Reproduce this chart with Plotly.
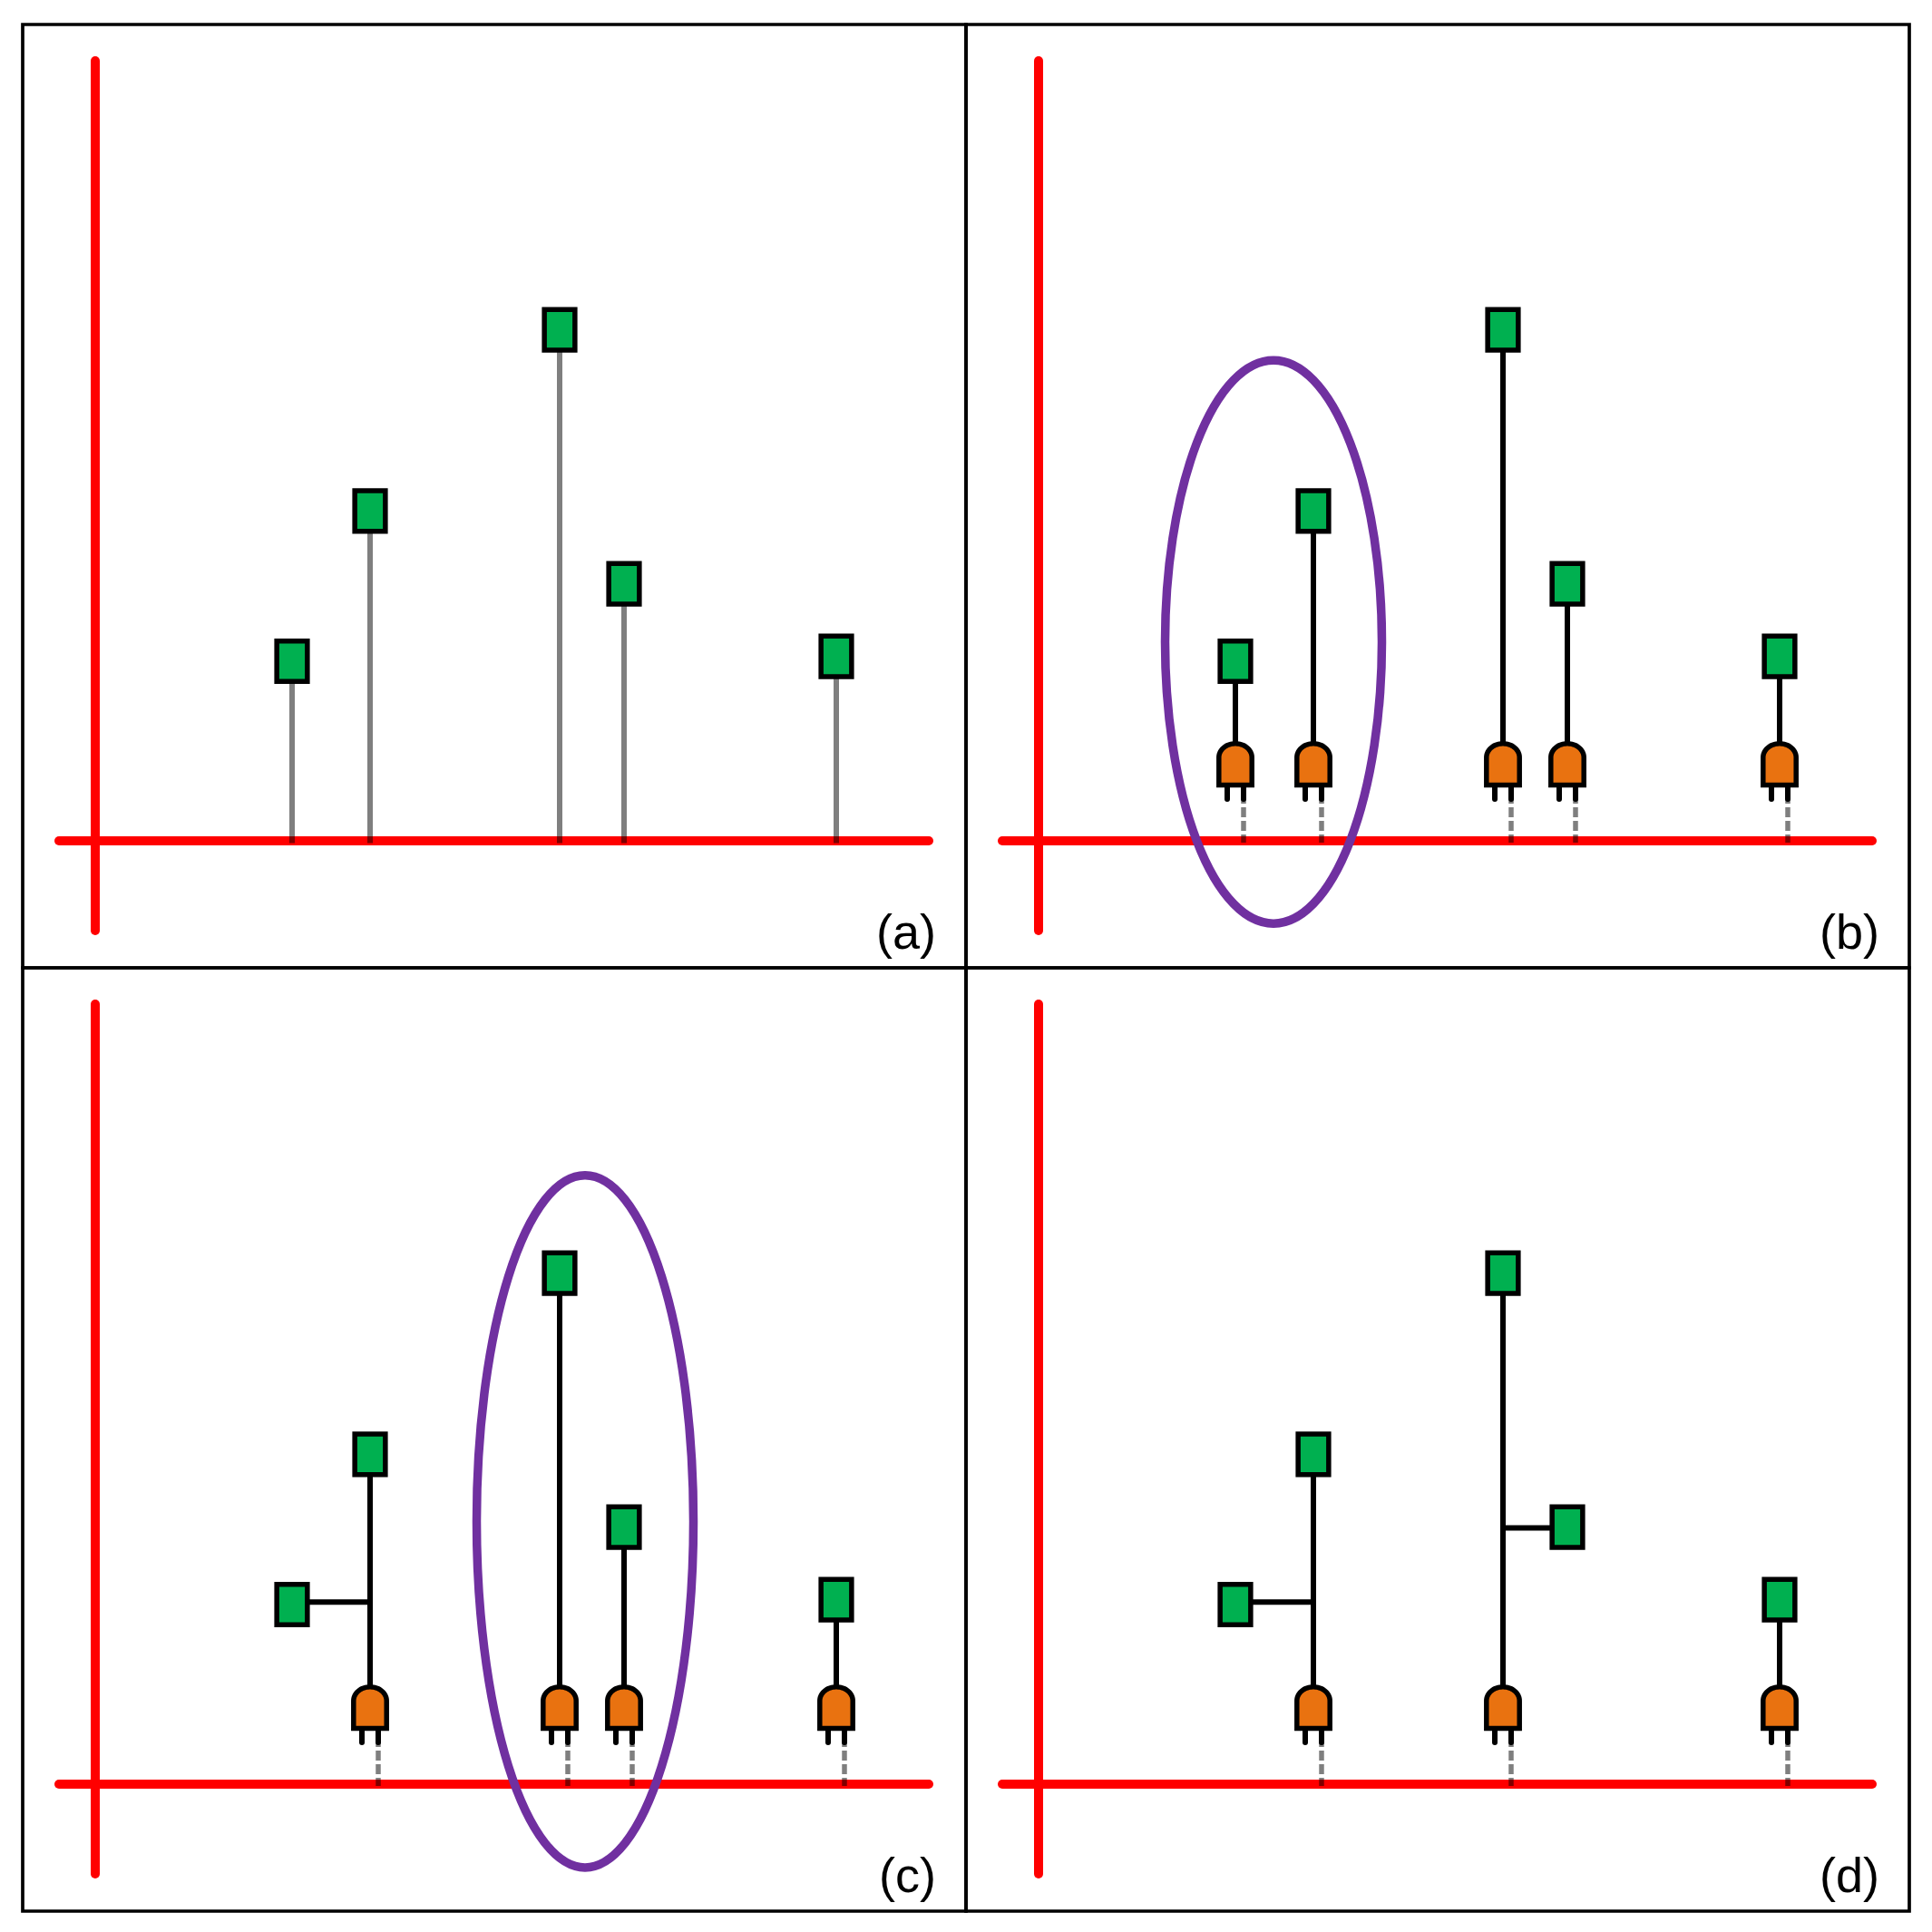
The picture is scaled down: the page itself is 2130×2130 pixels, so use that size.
import numpy as np
import plotly.graph_objects as go
from plotly.subplots import make_subplots

# values, in pixels from the crossing of the red axes
panel_labels = ["(a)", "(b)", "(c)", "(d)"]
point_x = [217, 303, 512, 583, 817]
point_y = [198, 363.6, 563.4, 283.4, 203.4]

# which points carry a gate in each panel
gate_points = [[], [0, 1, 2, 3, 4], [1, 2, 3, 4], [1, 2, 4]]
# (child, parent, height of the branch) per panel
branches = [[], [], [(0, 1, 200.8)], [(0, 1, 200.8), (3, 2, 282.4)]]
# cx, cy, rx, ry per panel
ellipses = [None, (259, 219.3, 119.5, 310.5), (540, 289.7, 119.5, 381.6), None]

RED = "#FF0000"
GREEN = "#00B050"
ORANGE = "#E97210"
PURPLE = "#7030A0"
HALF_BLACK = "rgba(0,0,0,0.5)"

SQUARE_W = 33.7
SQUARE_H = 44.6
GATE_W = 36.4
GATE_BOTTOM = 61.4
GATE_SHOULDER = 92
GATE_TOP = 107.2
LEG_OFFSET = 9
LEG_END = 46

fig = make_subplots(rows=2, cols=2, horizontal_spacing=0, vertical_spacing=0)


def add_line(xs, ys, color, width, row, col, dash=None, caps=False):
    fig.add_trace(go.Scatter(x=xs, y=ys, mode="lines+markers" if caps else "lines",
                             line=dict(color=color, width=width, dash=dash),
                             marker=dict(color=color, size=width, line=dict(width=0)),
                             hoverinfo="skip"), row=row, col=col)


def add_shape_trace(xs, ys, fill, row, col):
    fig.add_trace(go.Scatter(x=xs, y=ys, mode="lines", fill="toself", fillcolor=fill,
                             line=dict(color="black", width=5.5, simplify=False), hoverinfo="skip"),
                  row=row, col=col)


def add_square(x, y, row, col):
    dx = SQUARE_W / 2
    dy = SQUARE_H / 2
    # starts mid edge so the joins at the corners stay whole
    add_shape_trace([x, x + dx, x + dx, x - dx, x - dx, x],
                    [y + dy, y + dy, y - dy, y - dy, y + dy, y + dy], GREEN, row, col)


def add_gate(x, row, col):
    dx = GATE_W / 2
    t = np.linspace(0, np.pi, 40)
    xs = [x, x - dx] + list(x - dx * np.cos(t)) + [x + dx, x]
    ys = [GATE_BOTTOM, GATE_BOTTOM] + list(GATE_SHOULDER + (GATE_TOP - GATE_SHOULDER) * np.sin(t)) + [GATE_BOTTOM, GATE_BOTTOM]
    add_shape_trace(xs, ys, ORANGE, row, col)


for i, label in enumerate(panel_labels):
    row = i // 2 + 1
    col = i % 2 + 1

    # axes of the panel
    add_line([-40, 919], [0, 0], RED, 10, row, col, caps=True)
    add_line([0, 0], [-99, 860], RED, 10, row, col, caps=True)

    if i == 0:
        for x, y in zip(point_x, point_y):
            add_line([x, x], [-2.5, y], HALF_BLACK, 6, row, col)
    else:
        children = [b[0] for b in branches[i]]
        for child, parent, h in branches[i]:
            add_line([point_x[child], point_x[parent]], [h, h], "black", 6, row, col)
        for p in range(len(point_x)):
            if p not in children:
                add_line([point_x[p], point_x[p]], [GATE_TOP, point_y[p]], "black", 6, row, col)
        for p in gate_points[i]:
            x = point_x[p]
            add_line([x + LEG_OFFSET, x + LEG_OFFSET], [52, -2], HALF_BLACK, 5.5, row, col, dash="11px,4px")
            add_line([x - LEG_OFFSET, x - LEG_OFFSET], [GATE_BOTTOM, LEG_END], "black", 6, row, col, caps=True)
            add_line([x + LEG_OFFSET, x + LEG_OFFSET], [GATE_BOTTOM, LEG_END], "black", 6, row, col, caps=True)
            add_gate(x, row, col)

    for x, y in zip(point_x, point_y):
        add_square(x, y, row, col)

    suffix = "" if i == 0 else str(i + 1)
    fig.add_annotation(x=929, y=-100, xref="x" + suffix, yref="y" + suffix, text=label,
                       showarrow=False, xanchor="right", yanchor="middle",
                       font=dict(family="Liberation Sans", size=54, color="black"))

    # panel frame
    fig.add_shape(type="rect", xref="x" + suffix + " domain", yref="y" + suffix + " domain",
                  x0=0, x1=1, y0=0, y1=1, line=dict(color="black", width=3.7))

    if ellipses[i] is not None:
        cx, cy, rx, ry = ellipses[i]
        fig.add_shape(type="circle", xref="x" + suffix, yref="y" + suffix,
                      x0=cx - rx, x1=cx + rx, y0=cy - ry, y1=cy + ry,
                      line=dict(color=PURPLE, width=9.5))

fig.update_xaxes(range=[-80, 960], visible=False)
fig.update_yaxes(range=[-140, 900], visible=False)
# the page body adds 8px on the top and left
fig.update_layout(width=2122, height=2122, showlegend=False,
                  margin=dict(l=17, r=25, t=19, b=23),
                  paper_bgcolor="white", plot_bgcolor="white")

fig.write_html("out.html")
